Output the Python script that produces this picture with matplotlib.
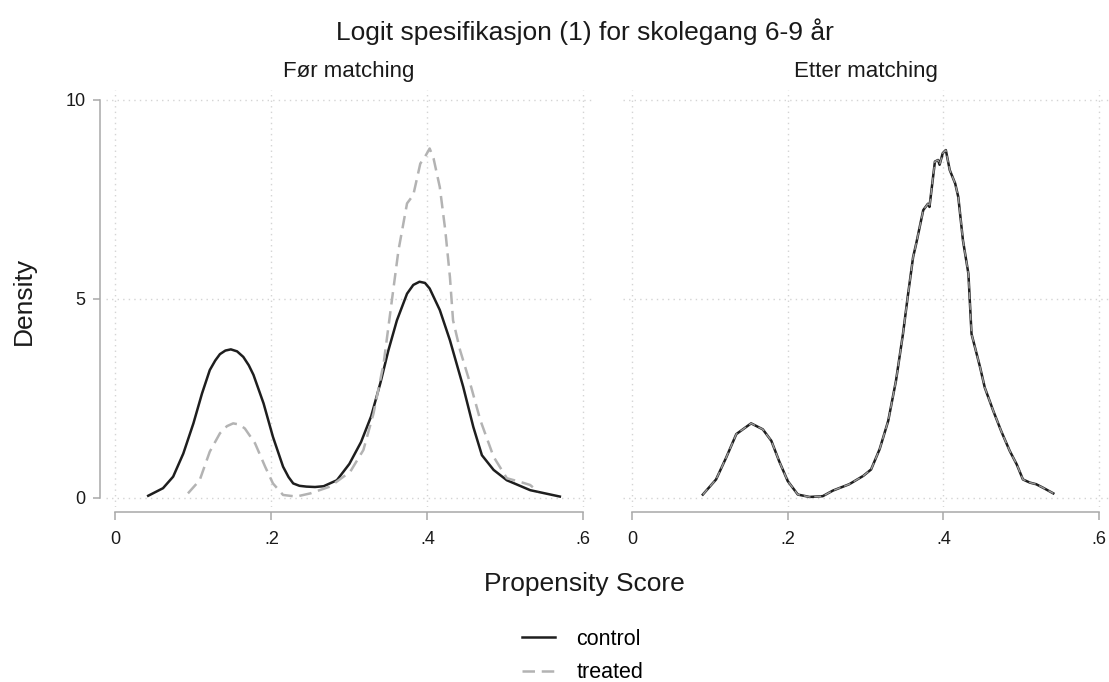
import matplotlib
matplotlib.use("Agg")
import matplotlib.pyplot as plt

plt.rcParams['font.family'] = ['Liberation Sans', 'DejaVu Sans']

# Før matching - kontroll
before_control_x = [0.042, 0.061, 0.074, 0.087, 0.100, 0.111, 0.121, 0.128, 0.134, 0.141,
                    0.148, 0.156, 0.164, 0.171, 0.177, 0.190, 0.202, 0.215, 0.222, 0.228,
                    0.236, 0.245, 0.256, 0.267, 0.284, 0.300, 0.315, 0.328, 0.340, 0.350,
                    0.361, 0.374, 0.382, 0.390, 0.397, 0.403, 0.416, 0.429, 0.446, 0.459,
                    0.470, 0.485, 0.502, 0.532, 0.570]
before_control_y = [0.05, 0.24, 0.53, 1.11, 1.87, 2.62, 3.21, 3.45, 3.61, 3.70,
                    3.73, 3.68, 3.54, 3.33, 3.09, 2.37, 1.53, 0.78, 0.52, 0.36,
                    0.30, 0.28, 0.27, 0.29, 0.44, 0.85, 1.40, 2.05, 2.90, 3.70,
                    4.46, 5.13, 5.35, 5.43, 5.40, 5.26, 4.72, 3.96, 2.79, 1.78,
                    1.07, 0.70, 0.44, 0.19, 0.03]

# Før matching - behandlet
before_treated_x = [0.093, 0.108, 0.121, 0.134, 0.143, 0.151, 0.159, 0.166, 0.179, 0.192,
                    0.202, 0.215, 0.232, 0.250, 0.275, 0.301, 0.318, 0.331, 0.344, 0.354,
                    0.363, 0.374, 0.382, 0.391, 0.397, 0.403, 0.408, 0.416, 0.423, 0.429,
                    0.433, 0.442, 0.455, 0.468, 0.485, 0.502, 0.519, 0.532, 0.542]
before_treated_y = [0.11, 0.44, 1.16, 1.62, 1.80, 1.87, 1.84, 1.74, 1.37, 0.78,
                    0.36, 0.07, 0.03, 0.11, 0.28, 0.65, 1.20, 2.12, 3.38, 4.88,
                    6.22, 7.40, 7.61, 8.40, 8.57, 8.78, 8.53, 7.81, 6.73, 5.55,
                    4.46, 3.71, 2.87, 1.95, 1.03, 0.49, 0.40, 0.32, 0.15]

# Etter matching (kontroll og behandlet overlapper)
after_x = [0.091, 0.108, 0.121, 0.134, 0.153, 0.168, 0.179, 0.189, 0.200, 0.213,
           0.228, 0.245, 0.258, 0.279, 0.297, 0.307, 0.318, 0.329, 0.339, 0.348,
           0.354, 0.361, 0.365, 0.374, 0.380, 0.382, 0.389, 0.393, 0.395, 0.399,
           0.403, 0.408, 0.415, 0.419, 0.425, 0.432, 0.436, 0.447, 0.453, 0.464,
           0.474, 0.485, 0.494, 0.502, 0.511, 0.519, 0.528, 0.541]
after_control_y = [0.08, 0.46, 1.01, 1.60, 1.87, 1.72, 1.43, 0.92, 0.42, 0.08,
                   0.02, 0.04, 0.18, 0.34, 0.55, 0.71, 1.22, 1.93, 2.94, 4.12,
                   5.04, 6.05, 6.39, 7.23, 7.39, 7.31, 8.45, 8.49, 8.37, 8.66,
                   8.74, 8.24, 7.90, 7.56, 6.47, 5.63, 4.12, 3.28, 2.77, 2.18,
                   1.68, 1.18, 0.84, 0.46, 0.38, 0.34, 0.25, 0.11]
after_treated_y = [0.08, 0.46, 1.01, 1.60, 1.87, 1.72, 1.43, 0.92, 0.42, 0.08,
                   0.02, 0.04, 0.18, 0.34, 0.55, 0.71, 1.22, 1.93, 2.94, 4.12,
                   5.04, 6.05, 6.39, 7.23, 7.39, 7.31, 8.45, 8.49, 8.37, 8.66,
                   8.74, 8.24, 7.90, 7.56, 6.47, 5.63, 4.12, 3.28, 2.77, 2.18,
                   1.68, 1.18, 0.84, 0.46, 0.38, 0.34, 0.25, 0.11]

x_ticks = [0, 0.2, 0.4, 0.6]
x_tick_labels = ["0", ".2", ".4", ".6"]
y_ticks = [0, 5, 10]
y_tick_labels = ["0", "5", "10"]

W, H = 1109, 682
fig = plt.figure(figsize=(W / 100, H / 100), dpi=100)

def px(x, y):
    return x / W, 1 - y / H

ax_bottom = (H - 506.5) / H
ax_height = 416.5 / H
ax1 = fig.add_axes([106.1 / W, ax_bottom, 486.5 / W, ax_height])
ax2 = fig.add_axes([622.6 / W, ax_bottom, 486.0 / W, ax_height])

spine_col = '#a8a8a8'
ctrl_col = '#1e1e1e'
treat_col = '#b3b3b3'
dash = (0, (5, 2.7))

for ax in (ax1, ax2):
    ax.set_xlim(-0.012, 0.612)
    ax.set_ylim(-0.22, 10.25)
    ax.set_xticks(x_ticks)
    ax.set_xticklabels(x_tick_labels)
    ax.set_yticks(y_ticks)
    ax.set_yticklabels(y_tick_labels)
    ax.grid(True, color='#d4d4d4', linestyle=(0, (1, 3)), linewidth=1.0)
    ax.set_axisbelow(True)
    for s in ('top', 'right'):
        ax.spines[s].set_visible(False)
    ax.spines['bottom'].set_position(('outward', 4))
    ax.spines['bottom'].set_bounds(0, 0.6)
    ax.spines['bottom'].set_color(spine_col)
    ax.spines['bottom'].set_linewidth(1.1)
    ax.tick_params(axis='x', length=6, width=1.1, color=spine_col, pad=7.5,
                   labelsize=13, labelcolor='#1a1a1a')

ax1.spines['left'].set_position(('outward', 4.3))
ax1.spines['left'].set_bounds(0, 10)
ax1.spines['left'].set_color(spine_col)
ax1.spines['left'].set_linewidth(1.1)
ax1.tick_params(axis='y', length=5, width=1.1, color=spine_col, pad=5.5,
                labelsize=13, labelcolor='#1a1a1a')
ax2.spines['left'].set_visible(False)
ax2.tick_params(axis='y', left=False, labelleft=False)

l1, = ax1.plot(before_control_x, before_control_y, color=ctrl_col, lw=1.8,
               solid_joinstyle='round', label='control')
l2, = ax1.plot(before_treated_x, before_treated_y, color=treat_col, lw=1.8, linestyle=dash,
               label='treated')
ax2.plot(after_x, after_control_y, color=ctrl_col, lw=1.8, solid_joinstyle='round')
ax2.plot(after_x, after_treated_y, color='#9a9a9a', lw=1.0, linestyle=dash)

fig.text(*px(585, 40), "Logit spesifikasjon (1) for skolegang 6-9 år", fontsize=19,
         ha='center', va='baseline', color='#1a1a1a')
fig.text(*px(349, 77), "Før matching", fontsize=16, ha='center', va='baseline', color='#1a1a1a')
fig.text(*px(866, 77), "Etter matching", fontsize=16, ha='center', va='baseline', color='#1a1a1a')
fig.text(*px(24, 301), "Density", fontsize=19, rotation=90, ha='center', va='center',
         color='#1a1a1a')
fig.text(*px(584, 591), "Propensity Score", fontsize=19, ha='center', va='baseline',
         color='#1a1a1a')

fig.legend(handles=[l1, l2], loc='upper left', bbox_to_anchor=px(521.7, 629),
           frameon=False, fontsize=15.5, borderpad=0, borderaxespad=0,
           handlelength=1.55, handletextpad=1.0, labelspacing=0.57)

fig.savefig("out.png", dpi=100)
